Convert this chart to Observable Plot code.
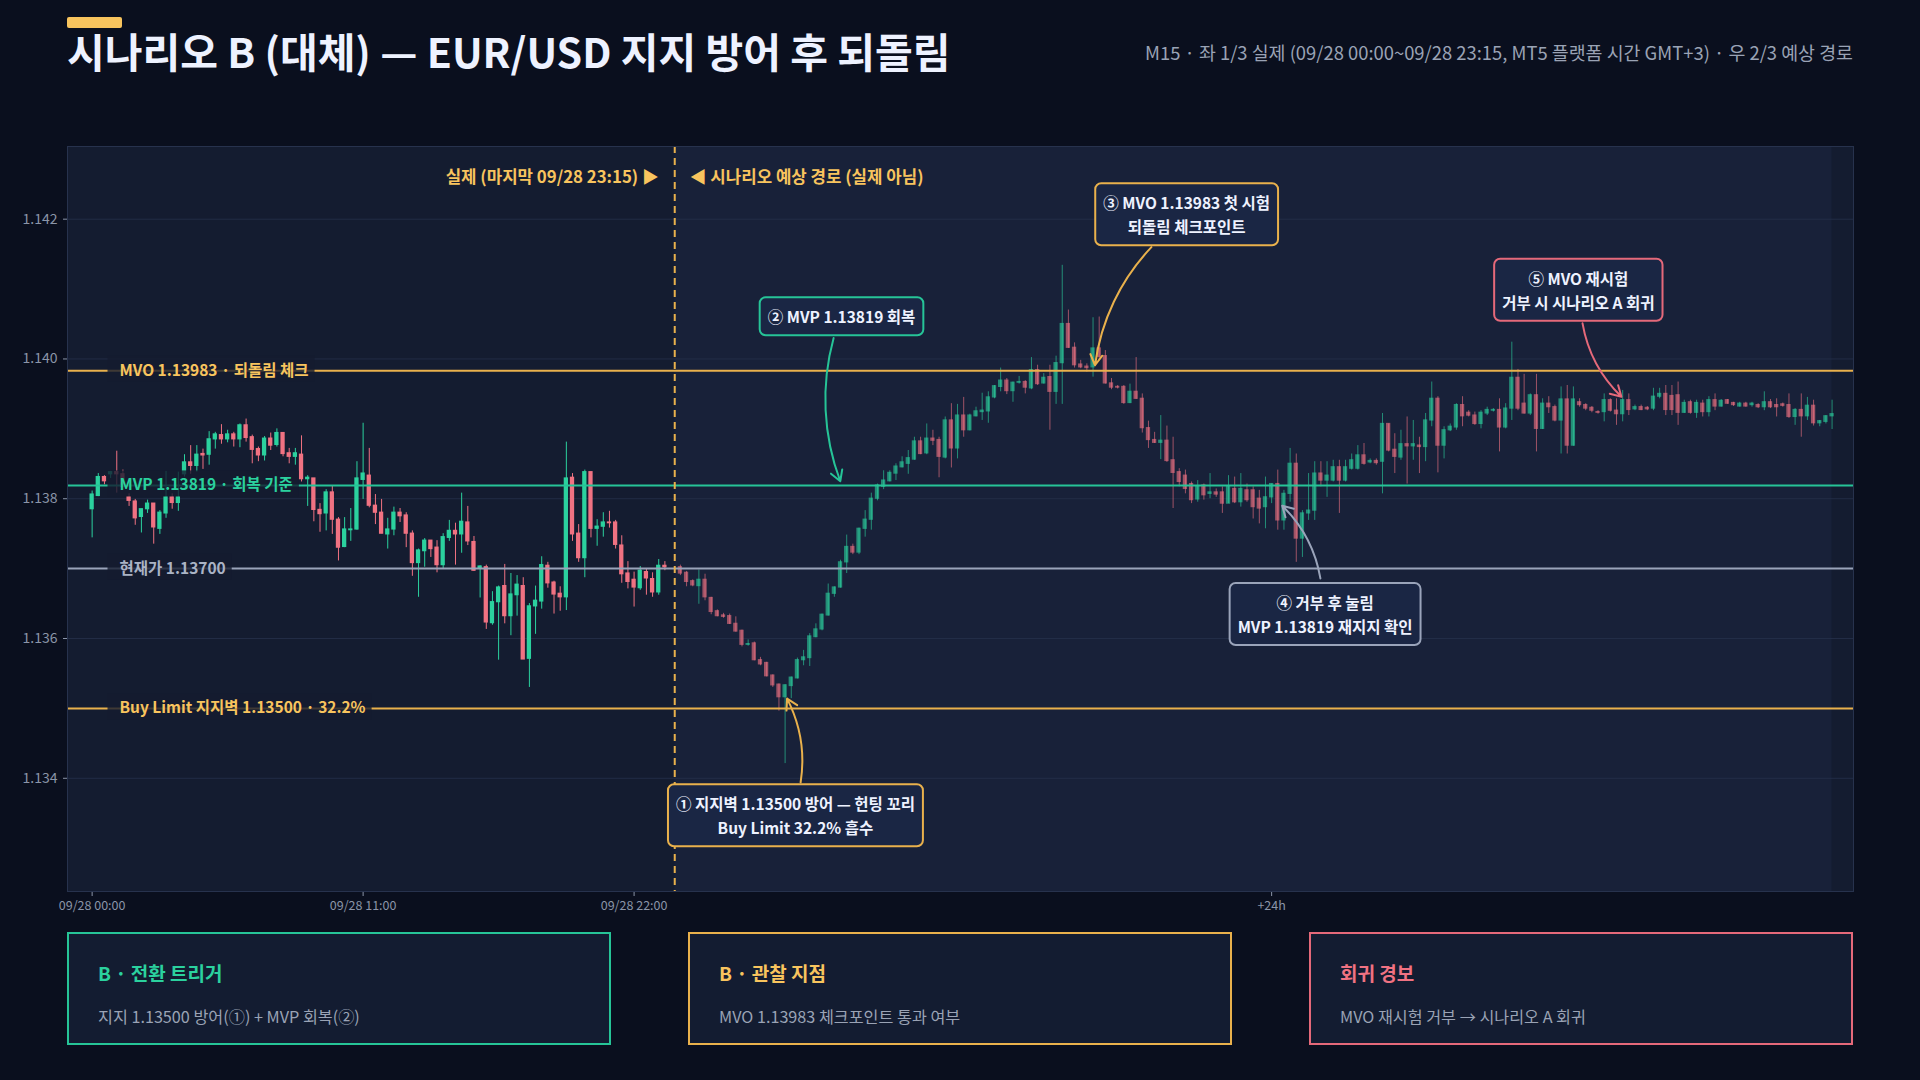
<!DOCTYPE html>
<html>
<head>
<meta charset="utf-8">
<script src="https://cdn.jsdelivr.net/npm/d3@7"></script>
<script src="https://cdn.jsdelivr.net/npm/@observablehq/plot@0.6"></script>
<style>
  html, body { margin: 0; padding: 0; background: #0a0f1e; }
  body { width: 1920px; height: 1080px; position: relative; overflow: hidden;
         font-family: "Noto Sans CJK KR", "Noto Sans", sans-serif; }
  .accent { position: absolute; left: 67px; top: 17px; width: 55px; height: 11px; background: #f8c45e; border-radius: 2px; }
  .title { position: absolute; left: 67px; top: 27px; font-size: 41px; font-weight: 700; color: #eef2ff;
           line-height: 46px; white-space: nowrap; }
  .subtitle { position: absolute; right: 67px; top: 39px; font-size: 18.4px; color: #9aa3b5; line-height: 26px; white-space: nowrap; }
  #chart { position: absolute; left: 0; top: 100px; }
  .card { position: absolute; top: 932px; width: 544px; height: 113px; box-sizing: border-box;
          border: 2px solid; background: #131c31; padding: 26px 0 0 29px; }
  .card .ct { font-size: 19px; font-weight: 700; line-height: 26px; }
  .card .cb { font-size: 16.2px; color: #9aa3b5; line-height: 22px; margin-top: 19px; }
</style>
</head>
<body>
<div class="accent"></div>
<div class="title" id="title"></div>
<div class="subtitle" id="subtitle"></div>
<div id="chart"></div>
<div id="cards"></div>
<script>
// ---------------- DATA ----------------
const titleText = "시나리오 B (대체) — EUR/USD 지지 방어 후 되돌림";
const subtitleText = "M15 · 좌 1/3 실제 (09/28 00:00~09/28 23:15, MT5 플랫폼 시간 GMT+3) · 우 2/3 예상 경로";

// time in hours from 09/28 00:00, 15-minute bars
const barHours = 0.25;
const actualStart = 0;
const forecastStart = 23.88;
const dividerTime = 23.65;

// actual candles [open, high, low, close]
const actualOHLC = [
[1.13785,1.13811,1.13744,1.13806],[1.13804,1.13836,1.13803,1.13831],[1.13831,1.13833,1.13820,1.13825],[1.13835,1.13839,1.13829,1.13838],
[1.13838,1.13868,1.13808,1.13835],[1.13835,1.13841,1.13812,1.13817],[1.13802,1.13807,1.13789,1.13797],[1.13796,1.13799,1.13762,1.13772],
[1.13774,1.13785,1.13751,1.13785],[1.13785,1.13798,1.13779,1.13793],[1.13793,1.13793,1.13735,1.13759],[1.13757,1.13783,1.13749,1.13780],
[1.13779,1.13839,1.13772,1.13802],[1.13802,1.13807,1.13785,1.13794],[1.13794,1.13838,1.13782,1.13802],[1.13835,1.13863,1.13831,1.13852],
[1.13852,1.13876,1.13835,1.13847],[1.13847,1.13876,1.13838,1.13863],[1.13864,1.13871,1.13842,1.13862],[1.13863,1.13896,1.13848,1.13885],
[1.13885,1.13895,1.13871,1.13892],[1.13891,1.13906,1.13878,1.13885],[1.13885,1.13898,1.13880,1.13892],[1.13892,1.13895,1.13874,1.13885],
[1.13885,1.13907,1.13873,1.13905],[1.13905,1.13914,1.13881,1.13887],[1.13888,1.13891,1.13850,1.13870],[1.13871,1.13874,1.13853,1.13862],
[1.13862,1.13889,1.13854,1.13886],[1.13886,1.13894,1.13869,1.13876],[1.13877,1.13900,1.13874,1.13894],[1.13894,1.13894,1.13860,1.13864],
[1.13865,1.13872,1.13850,1.13860],[1.13860,1.13872,1.13848,1.13865],[1.13863,1.13890,1.13824,1.13828],[1.13828,1.13833,1.13789,1.13830],
[1.13829,1.13829,1.13767,1.13784],[1.13784,1.13793,1.13752,1.13778],[1.13779,1.13813,1.13754,1.13809],[1.13809,1.13818,1.13749,1.13770],
[1.13770,1.13773,1.13711,1.13730],[1.13731,1.13773,1.13730,1.13756],[1.13755,1.13786,1.13739,1.13756],[1.13756,1.13853,1.13755,1.13829],
[1.13827,1.13908,1.13799,1.13836],[1.13833,1.13872,1.13787,1.13790],[1.13790,1.13806,1.13763,1.13780],[1.13780,1.13799,1.13750,1.13750],
[1.13749,1.13772,1.13728,1.13756],[1.13756,1.13788,1.13747,1.13780],[1.13780,1.13786,1.13766,1.13775],[1.13776,1.13780,1.13730,1.13750],
[1.13750,1.13754,1.13689,1.13708],[1.13708,1.13728,1.13659,1.13726],[1.13725,1.13743,1.13702,1.13740],[1.13740,1.13740,1.13716,1.13728],
[1.13730,1.13740,1.13694,1.13705],[1.13705,1.13750,1.13699,1.13745],[1.13744,1.13769,1.13739,1.13754],[1.13754,1.13765,1.13705,1.13749],
[1.13749,1.13808,1.13722,1.13767],[1.13766,1.13789,1.13733,1.13739],[1.13738,1.13746,1.13696,1.13697],[1.13701,1.13704,1.13658,1.13703],
[1.13702,1.13705,1.13613,1.13623],[1.13622,1.13667,1.13619,1.13652],[1.13652,1.13675,1.13569,1.13673],[1.13675,1.13706,1.13621,1.13632],
[1.13632,1.13693,1.13604,1.13663],[1.13662,1.13690,1.13632,1.13677],[1.13675,1.13687,1.13570,1.13570],[1.13571,1.13650,1.13530,1.13646],
[1.13646,1.13675,1.13606,1.13654],[1.13653,1.13717,1.13642,1.13705],[1.13704,1.13709,1.13672,1.13679],[1.13680,1.13682,1.13635,1.13663],
[1.13664,1.13674,1.13639,1.13659],[1.13659,1.13881,1.13640,1.13829],[1.13830,1.13836,1.13739,1.13749],[1.13750,1.13763,1.13709,1.13715],
[1.13715,1.13841,1.13687,1.13838],[1.13838,1.13838,1.13744,1.13757],[1.13757,1.13770,1.13732,1.13760],[1.13760,1.13780,1.13745,1.13766],
[1.13766,1.13782,1.13758,1.13765],[1.13766,1.13769,1.13728,1.13734],[1.13733,1.13747,1.13679,1.13692],[1.13693,1.13710,1.13671,1.13681],
[1.13684,1.13695,1.13645,1.13673],[1.13672,1.13703,1.13669,1.13697],[1.13695,1.13699,1.13662,1.13686],[1.13685,1.13694,1.13659,1.13666],
[1.13666,1.13713,1.13662,1.13704],[1.13704,1.13710,1.13697,1.13702]
];

// scenario path candles [open, high, low, close]
const forecastOHLC = [
[1.13702,1.13705,1.13690,1.13693],[1.13694,1.13696,1.13674,1.13681],[1.13682,1.13684,1.13674,1.13676],[1.13675,1.13698,1.13649,1.13684],
[1.13684,1.13692,1.13654,1.13659],[1.13658,1.13659,1.13634,1.13638],[1.13639,1.13641,1.13631,1.13632],[1.13633,1.13636,1.13629,1.13631],
[1.13632,1.13635,1.13620,1.13621],[1.13621,1.13631,1.13609,1.13610],[1.13611,1.13612,1.13588,1.13591],[1.13591,1.13598,1.13589,1.13592],
[1.13593,1.13595,1.13568,1.13569],[1.13569,1.13573,1.13561,1.13563],[1.13565,1.13566,1.13545,1.13546],[1.13547,1.13548,1.13530,1.13533],
[1.13534,1.13535,1.13496,1.13516],[1.13516,1.13534,1.13421,1.13533],[1.13532,1.13545,1.13514,1.13544],[1.13543,1.13572,1.13542,1.13569],
[1.13569,1.13583,1.13561,1.13573],[1.13572,1.13607,1.13560,1.13603],[1.13602,1.13621,1.13601,1.13613],[1.13613,1.13635,1.13611,1.13634],
[1.13633,1.13678,1.13632,1.13664],[1.13664,1.13674,1.13659,1.13673],[1.13673,1.13712,1.13672,1.13709],[1.13709,1.13748,1.13693,1.13731],
[1.13731,1.13735,1.13720,1.13723],[1.13723,1.13758,1.13720,1.13757],[1.13757,1.13783,1.13745,1.13770],[1.13770,1.13808,1.13755,1.13800],
[1.13800,1.13821,1.13797,1.13819],[1.13817,1.13840,1.13813,1.13826],[1.13825,1.13840,1.13824,1.13837],[1.13836,1.13850,1.13826,1.13846],
[1.13845,1.13860,1.13844,1.13852],[1.13850,1.13869,1.13835,1.13858],[1.13856,1.13888,1.13855,1.13882],[1.13882,1.13888,1.13863,1.13864],
[1.13865,1.13907,1.13863,1.13886],[1.13886,1.13898,1.13876,1.13883],[1.13884,1.13888,1.13830,1.13860],[1.13859,1.13917,1.13857,1.13912],
[1.13912,1.13936,1.13844,1.13872],[1.13872,1.13935,1.13857,1.13919],[1.13919,1.13945,1.13888,1.13898],[1.13898,1.13921,1.13897,1.13919],
[1.13918,1.13931,1.13917,1.13925],[1.13924,1.13951,1.13912,1.13926],[1.13925,1.13953,1.13908,1.13945],[1.13945,1.13962,1.13943,1.13961],
[1.13960,1.13987,1.13953,1.13969],[1.13969,1.13972,1.13949,1.13954],[1.13954,1.13967,1.13938,1.13966],[1.13966,1.13975,1.13964,1.13967],
[1.13967,1.13969,1.13950,1.13959],[1.13958,1.14002,1.13956,1.13984],[1.13984,1.13991,1.13962,1.13964],[1.13965,1.13979,1.13964,1.13973],
[1.13974,1.13991,1.13898,1.13953],[1.13953,1.14004,1.13935,1.13994],[1.13994,1.14134,1.13935,1.14050],[1.14050,1.14070,1.14015,1.14016],
[1.14016,1.14023,1.13987,1.13991],[1.13992,1.13998,1.13986,1.13988],[1.13989,1.13993,1.13981,1.13987],[1.13988,1.14059,1.13974,1.14015],
[1.14015,1.14060,1.13998,1.14003],[1.14004,1.14012,1.13964,1.13965],[1.13965,1.13972,1.13956,1.13959],[1.13960,1.13962,1.13957,1.13959],
[1.13960,1.13962,1.13935,1.13937],[1.13937,1.13964,1.13936,1.13953],[1.13953,1.14002,1.13942,1.13943],[1.13943,1.13950,1.13894,1.13901],
[1.13901,1.13911,1.13872,1.13884],[1.13884,1.13895,1.13879,1.13880],[1.13880,1.13919,1.13856,1.13883],[1.13883,1.13904,1.13852,1.13854],
[1.13855,1.13888,1.13786,1.13837],[1.13838,1.13843,1.13817,1.13824],[1.13833,1.13841,1.13807,1.13814],[1.13821,1.13824,1.13793,1.13798],
[1.13799,1.13826,1.13795,1.13817],[1.13819,1.13821,1.13798,1.13805],[1.13807,1.13836,1.13800,1.13809],[1.13809,1.13814,1.13802,1.13806],
[1.13809,1.13817,1.13779,1.13793],[1.13793,1.13833,1.13793,1.13817],[1.13814,1.13831,1.13793,1.13795],[1.13795,1.13836,1.13788,1.13814],
[1.13812,1.13821,1.13795,1.13798],[1.13812,1.13817,1.13771,1.13788],[1.13800,1.13812,1.13764,1.13786],[1.13788,1.13831,1.13757,1.13802],
[1.13802,1.13821,1.13793,1.13821],[1.13821,1.13841,1.13755,1.13769],[1.13769,1.13812,1.13755,1.13807],[1.13807,1.13872,1.13795,1.13850],
[1.13850,1.13864,1.13709,1.13743],[1.13743,1.13783,1.13716,1.13779],[1.13779,1.13836,1.13769,1.13783],[1.13783,1.13853,1.13769,1.13836],
[1.13836,1.13853,1.13817,1.13826],[1.13826,1.13853,1.13802,1.13833],[1.13826,1.13855,1.13824,1.13845],[1.13845,1.13855,1.13779,1.13826],
[1.13826,1.13855,1.13824,1.13845],[1.13843,1.13864,1.13841,1.13855],[1.13843,1.13876,1.13841,1.13862],[1.13862,1.13879,1.13848,1.13850],
[1.13852,1.13857,1.13850,1.13854],[1.13854,1.13857,1.13848,1.13851],[1.13853,1.13922,1.13807,1.13907],[1.13907,1.13907,1.13867,1.13869],
[1.13870,1.13893,1.13836,1.13860],[1.13859,1.13898,1.13855,1.13878],[1.13878,1.13917,1.13821,1.13875],[1.13875,1.13912,1.13855,1.13878],
[1.13876,1.13888,1.13836,1.13874],[1.13874,1.13922,1.13853,1.13912],[1.13912,1.13967,1.13903,1.13943],[1.13943,1.13946,1.13837,1.13876],
[1.13876,1.13903,1.13857,1.13898],[1.13898,1.13907,1.13896,1.13903],[1.13902,1.13936,1.13898,1.13934],[1.13934,1.13946,1.13903,1.13918],
[1.13923,1.13926,1.13917,1.13919],[1.13919,1.13924,1.13905,1.13907],[1.13907,1.13926,1.13900,1.13923],[1.13922,1.13931,1.13919,1.13927],
[1.13926,1.13929,1.13924,1.13927],[1.13927,1.13943,1.13867,1.13902],[1.13902,1.13936,1.13900,1.13929],[1.13929,1.14024,1.13912,1.13973],
[1.13973,1.13985,1.13926,1.13929],[1.13936,1.13978,1.13921,1.13922],[1.13922,1.13950,1.13919,1.13948],[1.13948,1.13978,1.13867,1.13900],
[1.13900,1.13943,1.13899,1.13936],[1.13936,1.13946,1.13922,1.13931],[1.13931,1.13934,1.13910,1.13912],[1.13912,1.13960,1.13864,1.13942],
[1.13942,1.13962,1.13864,1.13876],[1.13876,1.13960,1.13875,1.13942],[1.13938,1.13943,1.13931,1.13934],[1.13934,1.13936,1.13926,1.13929],
[1.13930,1.13932,1.13923,1.13926],[1.13924,1.13926,1.13921,1.13923],[1.13924,1.13950,1.13910,1.13941],[1.13941,1.13943,1.13924,1.13926],
[1.13926,1.13943,1.13905,1.13921],[1.13921,1.13955,1.13910,1.13941],[1.13941,1.13950,1.13919,1.13927],[1.13928,1.13934,1.13926,1.13931],
[1.13931,1.13934,1.13926,1.13927],[1.13930,1.13932,1.13926,1.13928],[1.13929,1.13958,1.13926,1.13946],[1.13946,1.13958,1.13943,1.13950],
[1.13950,1.13962,1.13919,1.13927],[1.13947,1.13962,1.13919,1.13927],[1.13948,1.13967,1.13905,1.13923],[1.13923,1.13941,1.13922,1.13937],
[1.13938,1.13941,1.13921,1.13923],[1.13923,1.13941,1.13915,1.13937],[1.13936,1.13941,1.13917,1.13924],[1.13924,1.13946,1.13917,1.13941],
[1.13941,1.13950,1.13926,1.13932],[1.13932,1.13942,1.13931,1.13940],[1.13941,1.13942,1.13935,1.13936],[1.13937,1.13938,1.13932,1.13934],
[1.13932,1.13938,1.13931,1.13936],[1.13936,1.13938,1.13931,1.13932],[1.13934,1.13938,1.13931,1.13936],[1.13934,1.13936,1.13929,1.13931],
[1.13931,1.13953,1.13926,1.13938],[1.13938,1.13942,1.13929,1.13931],[1.13934,1.13943,1.13917,1.13931],[1.13935,1.13937,1.13931,1.13933],
[1.13934,1.13950,1.13915,1.13917],[1.13917,1.13929,1.13905,1.13927],[1.13927,1.13950,1.13888,1.13918],[1.13918,1.13945,1.13912,1.13933],
[1.13933,1.13941,1.13904,1.13908],[1.13908,1.13912,1.13903,1.13911],[1.13910,1.13919,1.13907,1.13918],[1.13918,1.13941,1.13899,1.13921]
];

// key price levels
const levelLabels = ["MVO 1.13983 · 되돌림 체크", "MVP 1.13819 · 회복 기준", "현재가 1.13700", "Buy Limit 지지벽 1.13500 · 32.2%"];
const levelValues = [1.13983, 1.13819, 1.13700, 1.13500];
const levelKinds  = ["yellow", "teal", "gray", "yellow"];

// axis ticks
const yTicks = [1.134, 1.136, 1.138, 1.140, 1.142];
const xTicks = [0, 11, 22, forecastStart + 24];
const xTickLabels = ["09/28 00:00", "09/28 11:00", "09/28 22:00", "+24h"];

// divider labels
const actualLabel = "실제 (마지막 09/28 23:15) ▶";
const scenarioLabel = "◀ 시나리오 예상 경로 (실제 아님)";

// annotations: box text, box anchor (time, price), arrow from / to (time, price)
const annoTexts = [
  "① 지지벽 1.13500 방어 — 헌팅 꼬리\nBuy Limit 32.2% 흡수",
  "② MVP 1.13819 회복",
  "③ MVO 1.13983 첫 시험\n되돌림 체크포인트",
  "④ 거부 후 눌림\nMVP 1.13819 재지지 확인",
  "⑤ MVO 재시험\n거부 시 시나리오 A 회귀"
];
const annoKinds = ["yellow", "teal", "yellow", "gray", "pink"];
const annoTime  = [28.55, 30.42, 44.43, 50.05, 60.33];
const annoPrice = [1.13348, 1.14062, 1.14208, 1.13636, 1.14100];
const arrowFromTime  = [28.76, 30.10, 43.00, 49.86, 60.50];
const arrowFromPrice = [1.13394, 1.14030, 1.14160, 1.13686, 1.14051];
const arrowToTime    = [28.21, 30.37, 40.71, 48.31, 62.08];
const arrowToPrice   = [1.13514, 1.13825, 1.13991, 1.13790, 1.13946];

// bottom cards
const cardTitles = ["B · 전환 트리거", "B · 관찰 지점", "회귀 경보"];
const cardBodies = ["지지 1.13500 방어(①) + MVP 회복(②)", "MVO 1.13983 체크포인트 통과 여부", "MVO 재시험 거부 → 시나리오 A 회귀"];
const cardKinds = ["teal", "yellow", "pink"];

// ---------------- STYLE ----------------
const LINE = {yellow: "#e9b14c", teal: "#26c497", gray: "#9aa4ba", pink: "#e5697a"};
const TEXT = {yellow: "#f8c45e", teal: "#2bd19e", gray: "#aab3c5", pink: "#f07282"};
const GREEN = "#2bd19e", RED = "#f07282";
const PLOT_BG = "#141c30", FORECAST_BG = "#182139", BOX_BG = "#1a2644";
const FONT = '"Noto Sans CJK KR", "Noto Sans", sans-serif';

// ---------------- BUILD ----------------
document.getElementById("title").textContent = titleText;
document.getElementById("subtitle").textContent = subtitleText;

const toBar = (d, t, f) => ({t, o: d[0], h: d[1], l: d[2], c: d[3], f});
const actual = actualOHLC.map((d, i) => toBar(d, actualStart + i * barHours, false));
const forecast = forecastOHLC.map((d, k) => toBar(d, forecastStart + k * barHours, true));
const lastT = forecast[forecast.length - 1].t;
const up = d => d.c >= d.o;
const bodyHalf = 0.087;

const levels = levelValues.map((v, i) => ({v, label: levelLabels[i], kind: levelKinds[i]}));
const annos = annoTexts.map((text, i) => ({
  text, kind: annoKinds[i], t: annoTime[i], p: annoPrice[i],
  x1: arrowFromTime[i], y1: arrowFromPrice[i], x2: arrowToTime[i], y2: arrowToPrice[i]
}));

function candleMarks(data, opacity) {
  return [
    Plot.ruleX(data, {x: "t", y1: "l", y2: "h", stroke: d => up(d) ? GREEN : RED, strokeWidth: 1, strokeOpacity: opacity}),
    Plot.rect(data, {x1: d => d.t - bodyHalf, x2: d => d.t + bodyHalf, y1: "o", y2: "c",
      fill: d => up(d) ? GREEN : RED, fillOpacity: opacity, insetTop: -0.6, insetBottom: -0.6})
  ];
}

const chart = Plot.plot({
  width: 1920, height: 830,
  marginTop: 46, marginBottom: 39, marginLeft: 67, marginRight: 67,
  style: {background: "transparent", fontFamily: FONT, overflow: "visible"},
  x: {type: "linear", domain: [-1, 71.5], axis: null},
  y: {domain: [1.13238, 1.14304], axis: null},
  color: {type: "identity"},
  marks: [
    Plot.frame({fill: PLOT_BG}),
    Plot.rect([0], {x1: dividerTime, x2: lastT, fill: FORECAST_BG}),
    Plot.gridY(yTicks, {stroke: "#26314b", strokeOpacity: 0.8}),
    Plot.axisY(yTicks, {tickSize: 4, tickPadding: 6, fontSize: 14, color: "#8b95a8", tickFormat: d => d.toFixed(3)}),
    Plot.axisX(xTicks, {tickSize: 5, tickPadding: 5, fontSize: 12.5, color: "#8b95a8",
      tickFormat: d => xTickLabels[xTicks.indexOf(d)]}),
    ...candleMarks(actual, 1),
    ...candleMarks(forecast, 0.62),
    Plot.ruleY(levels, {y: "v", stroke: d => LINE[d.kind], strokeWidth: 2}),
    Plot.ruleX([dividerTime], {x: d => d, stroke: LINE.yellow, strokeWidth: 2, strokeDasharray: "7,5"}),
    Plot.arrow(annos, {x1: "x1", y1: "y1", x2: "x2", y2: "y2", stroke: d => LINE[d.kind],
      strokeWidth: 2, bend: -18, headLength: 9}),
    Plot.frame({stroke: "#27324d", strokeWidth: 1}),
    // text marks (order matters for post-processing)
    Plot.text([dividerTime], {x: d => d, frameAnchor: "top", dy: 25, dx: -16, textAnchor: "end",
      text: () => actualLabel, fill: TEXT.yellow, fontWeight: 700, fontSize: 16.8}),
    Plot.text([dividerTime], {x: d => d, frameAnchor: "top", dy: 25, dx: 15, textAnchor: "start",
      text: () => scenarioLabel, fill: TEXT.yellow, fontWeight: 700, fontSize: 16.8}),
    Plot.text(levels, {y: "v", frameAnchor: "left", dx: 52, textAnchor: "start", text: "label",
      fill: d => TEXT[d.kind], fontWeight: 700, fontSize: 15.5}),
    Plot.text(annos, {x: "t", y: "p", text: "text", fill: "#eef2ff", fontWeight: 700, fontSize: 15.5, lineHeight: 1.55})
  ]
});

document.getElementById("chart").appendChild(chart);

// backgrounds behind level labels and annotation boxes
const svgNS = "http://www.w3.org/2000/svg";
const textGroups = chart.querySelectorAll('g[aria-label="text"]');
function addBg(textEl, opts) {
  const b = textEl.getBBox();
  const r = document.createElementNS(svgNS, "rect");
  r.setAttribute("x", b.x - opts.padL);
  r.setAttribute("y", b.y - opts.padY);
  r.setAttribute("width", b.width + opts.padL + opts.padR);
  r.setAttribute("height", b.height + 2 * opts.padY);
  const tr = textEl.getAttribute("transform");
  if (tr) r.setAttribute("transform", tr);
  r.setAttribute("fill", opts.fill);
  r.setAttribute("fill-opacity", opts.fillOpacity);
  if (opts.rx) r.setAttribute("rx", opts.rx);
  if (opts.stroke) { r.setAttribute("stroke", opts.stroke); r.setAttribute("stroke-width", 2); }
  textEl.parentNode.insertBefore(r, textEl);
}
const lvlTexts = textGroups[2].querySelectorAll("text");
lvlTexts.forEach(el => addBg(el, {padL: 12, padR: 6, padY: 2, fill: PLOT_BG, fillOpacity: 0.8}));
const annoEls = textGroups[3].querySelectorAll("text");
annoEls.forEach((el, i) => addBg(el, {padL: 8, padR: 8, padY: 8, fill: BOX_BG, fillOpacity: 1, rx: 6,
  stroke: LINE[annos[i].kind]}));

// cards
const cards = document.getElementById("cards");
const cardLefts = [67, 688, 1309];
cardTitles.forEach((t, i) => {
  const c = document.createElement("div");
  c.className = "card";
  c.style.left = cardLefts[i] + "px";
  c.style.borderColor = LINE[cardKinds[i]];
  const h = document.createElement("div");
  h.className = "ct"; h.style.color = TEXT[cardKinds[i]]; h.textContent = t;
  const b = document.createElement("div");
  b.className = "cb"; b.textContent = cardBodies[i];
  c.appendChild(h); c.appendChild(b);
  cards.appendChild(c);
});
</script>
</body>
</html>
